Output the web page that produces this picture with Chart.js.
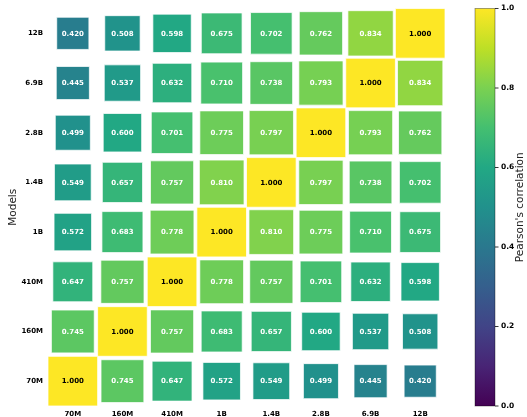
<!DOCTYPE html>
<html><head><meta charset="utf-8">
<script src="https://cdn.jsdelivr.net/npm/chart.js@4/dist/chart.umd.min.js"></script>
<style>html,body{margin:0;padding:0;background:#fff;overflow:hidden}</style>
</head><body>
<canvas id="c" width="527" height="417"></canvas>
<script>
// ---- data ----
const models = ['70M','160M','410M','1B','1.4B','2.8B','6.9B','12B'];
const yLabels = ['12B','6.9B','2.8B','1.4B','1B','410M','160M','70M'];
// Pearson correlation, one row per model, columns in `models` order
const row70M  = [1.000,0.745,0.647,0.572,0.549,0.499,0.445,0.420];
const row160M = [0.745,1.000,0.757,0.683,0.657,0.600,0.537,0.508];
const row410M = [0.647,0.757,1.000,0.778,0.757,0.701,0.632,0.598];
const row1B   = [0.572,0.683,0.778,1.000,0.810,0.775,0.710,0.675];
const row1_4B = [0.549,0.657,0.757,0.810,1.000,0.797,0.738,0.702];
const row2_8B = [0.499,0.600,0.701,0.775,0.797,1.000,0.793,0.762];
const row6_9B = [0.445,0.537,0.632,0.710,0.738,0.793,1.000,0.834];
const row12B  = [0.420,0.508,0.598,0.675,0.702,0.762,0.834,1.000];
const colorbarTicks = [0, 0.2, 0.4, 0.6, 0.8, 1.0];

const rows = {'70M':row70M,'160M':row160M,'410M':row410M,'1B':row1B,'1.4B':row1_4B,'2.8B':row2_8B,'6.9B':row6_9B,'12B':row12B};

// ---- style ----
const VIRIDIS = ['#440154','#482475','#414487','#355f8d','#2a788e','#21918c','#22a884','#44bf70','#7ad151','#bddf26','#fde725'];
function hex(c){return [parseInt(c.slice(1,3),16),parseInt(c.slice(3,5),16),parseInt(c.slice(5,7),16)];}
function viridis(t){
  t=Math.max(0,Math.min(1,t));
  const p=t*(VIRIDIS.length-1), i=Math.min(Math.floor(p),VIRIDIS.length-2), f=p-i;
  const a=hex(VIRIDIS[i]), b=hex(VIRIDIS[i+1]);
  return 'rgb('+a.map((v,k)=>Math.round(v+(b[k]-v)*f)).join(',')+')';
}
const FONT='DejaVu Sans';

const points=[];
models.forEach(r=>{ rows[r].forEach((v,c)=>points.push({x:models[c], y:r, v:v})); });

const cellText={
  id:'cellText',
  afterDatasetsDraw(chart){
    const ctx=chart.ctx, meta=chart.getDatasetMeta(0);
    ctx.save();
    ctx.font='bold 7px '+FONT; ctx.textAlign='center'; ctx.textBaseline='middle';
    meta.data.forEach((el,i)=>{
      const v=points[i].v;
      ctx.fillStyle = v>=0.999 ? '#000' : '#fff';
      ctx.fillText(v.toFixed(3), el.x, el.y+0.5);
    });
    ctx.restore();
  }
};

const colorbar={
  id:'colorbar',
  afterDraw(chart){
    const ctx=chart.ctx, cb=chart.scales.cb;
    const x0=cb.left+30, w=20;
    const yTop=cb.getPixelForValue(1), yBot=cb.getPixelForValue(0);
    ctx.save();
    const g=ctx.createLinearGradient(0,yBot,0,yTop);
    VIRIDIS.forEach((c,i)=>g.addColorStop(i/(VIRIDIS.length-1),c));
    ctx.fillStyle=g; ctx.fillRect(x0,yTop,w,yBot-yTop);
    ctx.strokeStyle='rgba(0,0,0,0.45)'; ctx.lineWidth=0.8;
    ctx.strokeRect(x0,yTop,w,yBot-yTop);
    ctx.strokeStyle='#000'; ctx.lineWidth=0.8;
    colorbarTicks.forEach(t=>{
      const y=cb.getPixelForValue(t);
      ctx.beginPath(); ctx.moveTo(x0+w,y); ctx.lineTo(x0+w+3.5,y); ctx.stroke();
    });
    ctx.fillStyle='#222'; ctx.font='10.5px '+FONT;
    ctx.translate(520,(yTop+yBot)/2); ctx.rotate(-Math.PI/2);
    ctx.textAlign='center'; ctx.textBaseline='middle';
    ctx.fillText("Pearson's correlation",0,0);
    ctx.restore();
  }
};

const tickFont={family:FONT,size:7,weight:'bold'};
function noPad(s){s.paddingTop=0;s.paddingBottom=0;s.paddingLeft=0;s.paddingRight=0;}

new Chart(document.getElementById('c'),{
  type:'scatter',
  data:{datasets:[{
    data:points,
    pointStyle:'rect',
    backgroundColor:ctx=>viridis(ctx.raw?ctx.raw.v:0),
    borderColor:'rgba(255,255,255,0.75)',
    borderWidth:1,
    radius:ctx=>{
      const xs=ctx.chart.scales.x; if(!xs||!ctx.raw) return 0;
      const pitch=(xs.right-xs.left)/models.length;
      return pitch*Math.sqrt(ctx.raw.v)/Math.SQRT2;
    },
    hoverRadius:0
  }]},
  options:{
    responsive:false, animation:false,
    layout:{padding:{top:8.5,left:0,right:0,bottom:0}},
    plugins:{legend:{display:false},tooltip:{enabled:false}},
    scales:{
      x:{type:'category',labels:models,offset:true,position:'bottom',
         grid:{display:false,drawTicks:false},border:{display:false},
         ticks:{font:tickFont,color:'#000',padding:4,autoSkip:false,maxRotation:0},
         afterFit(s){s.height=11;noPad(s);}},
      y:{type:'category',labels:yLabels,offset:true,position:'left',
         grid:{display:false,drawTicks:false},border:{display:false},
         ticks:{font:tickFont,color:'#000',padding:5,autoSkip:false},
         title:{display:true,text:'Models',color:'#222',font:{family:FONT,size:10.5},padding:{top:7,bottom:0}},
         afterFit(s){s.width=48;noPad(s);}},
      cb:{type:'linear',axis:'y',position:'right',min:0,max:1,
         grid:{display:false,drawTicks:false},border:{display:false},
         ticks:{stepSize:0.2,font:{family:FONT,size:7.5,weight:'bold'},color:'#000',padding:56,
                callback:v=>Number(v).toFixed(1)},
         afterFit(s){s.width=82;noPad(s);}}
    }
  },
  plugins:[cellText,colorbar]
});
</script>
</body></html>
